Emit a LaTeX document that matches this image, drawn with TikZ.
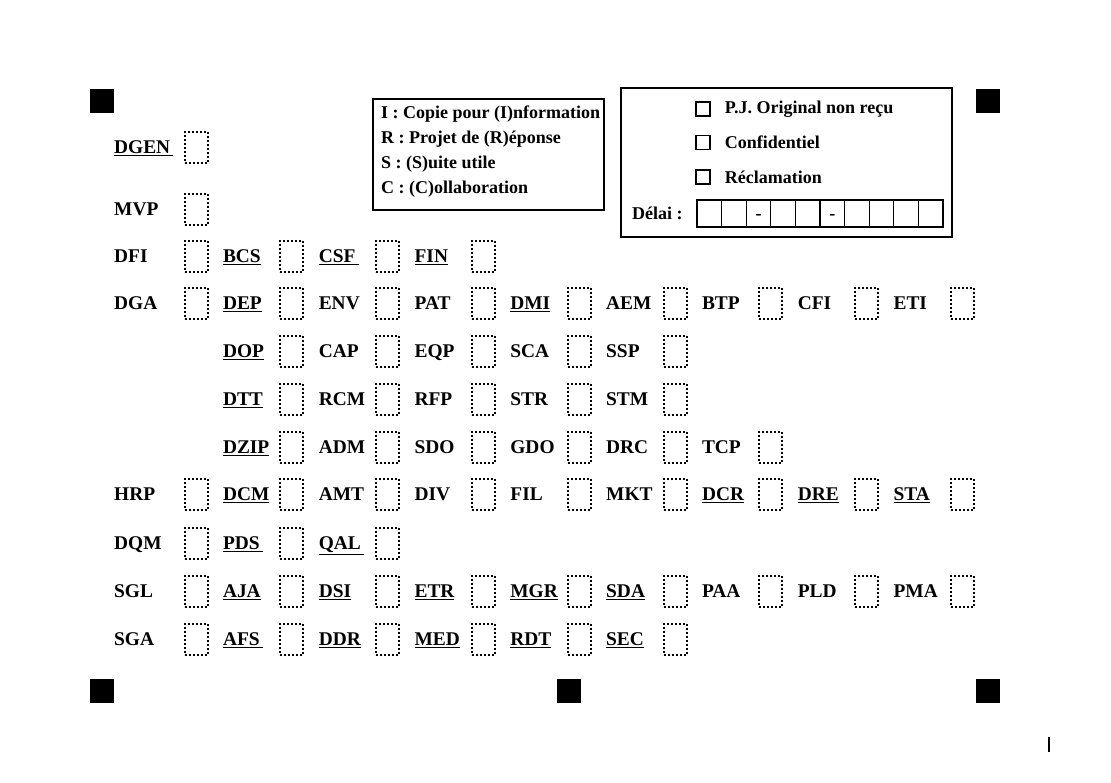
\documentclass[tikz,border=0pt]{standalone}
\usepackage{fontspec}
\setmainfont{Liberation Serif}
\usetikzlibrary{positioning}
\newcommand{\uln}[1]{\underline{#1}}
\begin{document}
\begin{tikzpicture}[x=1pt,y=-1pt,
	lbl/.style={anchor=base west,inner sep=0pt,font=\bfseries\fontsize{19.4}{23}\selectfont},
	cbox/.style={draw,dash pattern=on 2pt off 2pt,line width=2pt,minimum width=23pt,minimum height=31pt,inner sep=0pt},
	reg/.style={fill=black,minimum size=24pt,inner sep=0pt},
	txt/.style={font=\bfseries\fontsize{18}{25}\selectfont,inner sep=0pt},
	chk/.style={draw,line width=1.3pt,minimum size=14pt,inner sep=0pt},
	cell/.style={draw,line width=1.3pt,minimum width=24.6pt,minimum height=27pt,inner sep=0pt}]
	\useasboundingbox (0,0) rectangle (1111,782);
	\node[reg] (r1) at (102,101) {};
	\node[reg] (r2) at (988,101) {};
	\node[reg] (r3) at (102,691) {};
	\node[reg] (r4) at (569,691) {};
	\node[reg] (r5) at (988,691) {};
	\node[draw,line width=1.6pt,minimum width=231pt,minimum height=111pt,anchor=north west] (legend) at (372,98) {};
	\node[txt,align=left,anchor=north west] (legendt) at ([xshift=9pt,yshift=-7.5pt]legend.north west)
		{I : Copie pour (I)nformation\\R : Projet de (R)éponse\\S : (S)uite utile\\C : (C)ollaboration};
	\node[draw,line width=1.6pt,minimum width=331pt,minimum height=149pt] (opts) at (786.5,162.5) {};
	\node[chk] (pj) at (703,109) {};
	\node[txt,right=14pt of pj] (pjt) {P.J. Original non reçu};
	\node[chk] (conf) at (703,142.5) {};
	\node[txt,right=14pt of conf] (conft) {Confidentiel};
	\node[chk] (recl) at (703,177) {};
	\node[txt,right=14pt of recl] (reclt) {Réclamation};
	\node[txt,anchor=base west] (delai) at (632,219) {Délai :};
	\foreach \k in {0,...,9}
		\node[cell] (d\k) at ({709.3+24.6*\k},213.5) {};
	\node[txt] at ([yshift=-3pt]d2) {-};
	\node[txt] at ([yshift=-3pt]d5) {-};
	\foreach \yy/\cc/\row [count=\r] in {
		147/0/{\uln{DGEN\,}},
		209/0/{MVP},
		256/0/{DFI,\uln{BCS},\uln{CSF\,},\uln{FIN}},
		303/0/{DGA,\uln{DEP},ENV,PAT,\uln{DMI},AEM,BTP,CFI,ETI},
		351/1/{\uln{DOP},CAP,EQP,SCA,SSP},
		399/1/{\uln{DTT},RCM,RFP,STR,STM},
		447/1/{\uln{DZIP},ADM,SDO,GDO,DRC,TCP},
		494/0/{HRP,\uln{DCM},AMT,DIV,FIL,MKT,\uln{DCR},\uln{DRE},\uln{STA}},
		543/0/{DQM,\uln{PDS\,},\uln{QAL\,}},
		591/0/{SGL,\uln{AJA},\uln{DSI},\uln{ETR},\uln{MGR},\uln{SDA},PAA,PLD,PMA},
		639/0/{SGA,\uln{AFS\,},\uln{DDR},\uln{MED},\uln{RDT},\uln{SEC}}}
	{
		\foreach \t [count=\i from \cc] in \row {
			\node[lbl] (l\r-\i) at ({\i==0 ? 114 : 127+95.8*\i},\yy+6.5) {\t};
			\node[cbox] (b\r-\i) at ({196+95.8*\i},\yy) {};
		}
	}
	\coordinate (t1) at (1049,737);
	\coordinate (t2) at (1049,752);
	\draw[line width=1.5pt] (t1) -- (t2);
\end{tikzpicture}
\end{document}
